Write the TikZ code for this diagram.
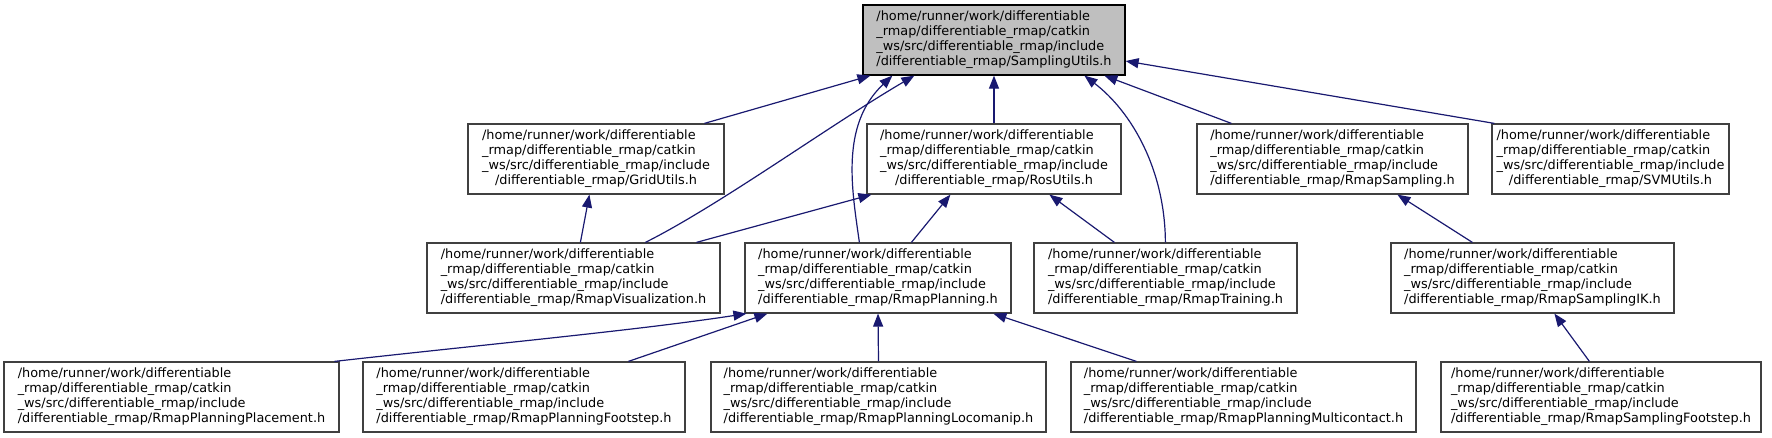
\documentclass[tikz,border=0pt]{standalone}
\usepackage{fontspec}
\setmainfont{DejaVu Sans}
\usetikzlibrary{arrows.meta}
\definecolor{edgec}{HTML}{191970}
\definecolor{bordc}{HTML}{404040}
\definecolor{rootfill}{HTML}{BFBFBF}
\newcommand{\fpath}[1]{\begin{tabular}{@{}l@{}}/home/runner/work/differentiable\\\_rmap/differentiable\_rmap/catkin\\\_ws/src/differentiable\_rmap/include\\\multicolumn{1}{@{}c@{}}{/differentiable\_rmap/#1}\end{tabular}}
\begin{document}
\begin{tikzpicture}[x=1pt,y=-1pt,
  box/.style={draw=bordc, line width=1.2pt, fill=white, inner sep=0pt, minimum height=70pt, font=\fontsize{12.86}{15}\selectfont},
  rootbox/.style={box, draw=black, fill=rootfill},
  edge/.style={draw=edgec, line width=1.2pt, -{Triangle[length=13pt,width=10pt]}}]
\useasboundingbox (0,0) rectangle (1772,437);
% row 1
\node[rootbox, minimum width=262pt] (root) at (994,40) {\fpath{SamplingUtils.h}};
% row 2
\node[box, minimum width=256pt] (grid) at (596,159) {\fpath{GridUtils.h}};
\node[box, minimum width=254pt] (ros) at (994,159) {\fpath{RosUtils.h}};
\node[box, minimum width=271pt] (samp) at (1332.5,159) {\fpath{RmapSampling.h}};
\node[box, minimum width=237pt] (svm) at (1610.5,159) {\fpath{SVMUtils.h}};
% row 3
\node[box, minimum width=293pt] (vis) at (573.5,278) {\fpath{RmapVisualization.h}};
\node[box, minimum width=266pt] (plan) at (878,278) {\fpath{RmapPlanning.h}};
\node[box, minimum width=263pt] (train) at (1165.5,278) {\fpath{RmapTraining.h}};
\node[box, minimum width=283pt] (ik) at (1532.5,278) {\fpath{RmapSamplingIK.h}};
% row 4
\node[box, minimum width=335pt] (place) at (171.5,397) {\fpath{RmapPlanningPlacement.h}};
\node[box, minimum width=322pt] (foot) at (524,397) {\fpath{RmapPlanningFootstep.h}};
\node[box, minimum width=335pt] (loco) at (878.5,397) {\fpath{RmapPlanningLocomanip.h}};
\node[box, minimum width=345pt] (multi) at (1243.5,397) {\fpath{RmapPlanningMulticontact.h}};
\node[box, minimum width=320pt] (sfoot) at (1601,397) {\fpath{RmapSamplingFootstep.h}};
% edges to root
\draw[edge] ([xshift=237pt]grid.north west) -- ([xshift=8pt]root.south west);
\draw[edge] ([xshift=219pt]vis.north west) .. controls (720,205) and (830,125) .. ([xshift=52pt]root.south west);
\draw[edge] ([xshift=115pt]plan.north west) .. controls (852,190) and (840,125) .. ([xshift=30pt]root.south west);
\draw[edge] (ros.north) -- (root.south);
\draw[edge] ([xshift=132pt]train.north west) .. controls (1165,170) and (1132,112) .. ([xshift=222pt]root.south west);
\draw[edge] ([xshift=35pt]samp.north west) -- ([xshift=242pt]root.south west);
\draw[edge] ([xshift=3pt]svm.north west) -- ([yshift=-21pt]root.east);
% edges to grid / ros
\draw[edge] ([xshift=154pt]vis.north west) -- ([xshift=122pt]grid.south west);
\draw[edge] ([xshift=270pt]vis.north west) -- ([xshift=5pt]ros.south west);
\draw[edge] ([xshift=167pt]plan.north west) -- ([xshift=84pt]ros.south west);
\draw[edge] ([xshift=81pt]train.north west) -- ([xshift=183pt]ros.south west);
% sampling chain
\draw[edge] ([xshift=82pt]ik.north west) -- ([xshift=201pt]samp.south west);
\draw[edge] ([xshift=149pt]sfoot.north west) -- ([xshift=164pt]ik.south west);
% edges to planning
\draw[edge] ([xshift=331pt]place.north west) .. controls (480,345) and (640,330) .. ([xshift=2pt]plan.south west);
\draw[edge] ([xshift=266pt]foot.north west) -- ([xshift=23pt]plan.south west);
\draw[edge] (loco.north) -- (plan.south);
\draw[edge] ([xshift=66pt]multi.north west) -- ([xshift=249pt]plan.south west);
\end{tikzpicture}
\end{document}
